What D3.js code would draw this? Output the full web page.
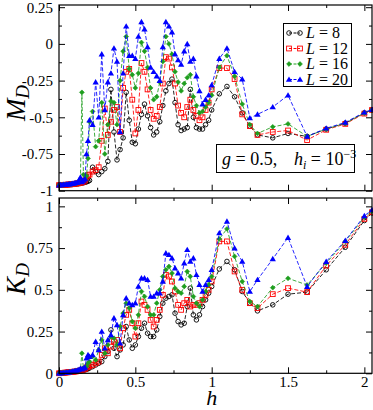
<!DOCTYPE html>
<html><head><meta charset="utf-8">
<script src="https://cdn.jsdelivr.net/npm/d3@7"></script>
<style>html,body{margin:0;padding:0;background:#fff;} svg{display:block;} svg text{font-family:"Liberation Serif","Times New Roman",Times,serif !important;}</style>
</head><body><svg id="c" width="373" height="410"></svg>
<script>
const hValues = [0,0.01,0.02,0.03,0.04,0.05,0.06,0.07,0.08,0.09,0.10,0.11,0.12,0.13,0.14,0.15,0.16,0.17,0.18,0.19,0.20,
0.22,0.24,0.26,0.28,0.30,0.32,0.34,0.36,0.38,0.40,0.42,0.44,0.46,0.48,0.50,0.52,0.54,0.56,0.58,0.60,0.62,0.64,0.66,0.68,0.70,0.72,0.74,0.76,0.78,0.80,0.82,0.84,0.86,0.88,0.90,0.92,0.94,0.96,0.98,1.00,
1.05,1.10,1.15,1.20,1.25,1.30,1.40,1.50,1.625,1.75,1.875,2.00,2.05];

const MD_L8 = [-0.962,-0.962,-0.961,-0.961,-0.960,-0.960,-0.959,-0.958,-0.958,-0.957,-0.956,-0.955,-0.953,-0.952,-0.950,-0.948,-0.946,-0.943,-0.940,-0.936,-0.930,
-0.84,-0.87,-0.89,-0.87,-0.85,-0.80,-0.31,-0.60,-0.79,-0.72,-0.64,-0.33,-0.52,-0.67,-0.68,-0.58,-0.48,-0.41,-0.49,-0.57,-0.62,-0.60,-0.53,-0.42,-0.32,-0.27,-0.24,-0.40,-0.55,-0.59,-0.58,-0.57,-0.31,-0.50,-0.57,-0.58,-0.58,-0.55,-0.52,-0.45,
-0.34,-0.29,-0.36,-0.47,-0.56,-0.62,-0.64,-0.61,-0.63,-0.58,-0.54,-0.47,-0.45];
const MD_L12 = [-0.962,-0.962,-0.961,-0.960,-0.960,-0.959,-0.958,-0.957,-0.956,-0.955,-0.954,-0.952,-0.950,-0.948,-0.946,-0.943,-0.940,-0.930,-0.905,-0.895,-0.890,
-0.87,-0.86,-0.84,-0.66,-0.44,-0.62,-0.53,-0.45,-0.43,-0.60,-0.30,-0.19,-0.17,-0.38,-0.61,-0.45,-0.13,-0.19,-0.31,-0.45,-0.51,-0.49,-0.43,-0.27,-0.09,-0.10,-0.16,-0.27,-0.42,-0.47,-0.50,-0.43,-0.38,-0.45,-0.49,-0.52,-0.50,-0.45,-0.40,-0.31,
-0.165,-0.165,-0.24,-0.48,-0.56,-0.62,-0.60,-0.59,-0.655,-0.585,-0.545,-0.475,-0.45];
const MD_L16 = [-0.962,-0.961,-0.961,-0.960,-0.959,-0.958,-0.957,-0.956,-0.955,-0.953,-0.951,-0.949,-0.947,-0.944,-0.940,-0.330,-0.890,-0.920,-0.900,-0.780,-0.530,
-0.46,-0.70,-0.66,-0.40,-0.75,-0.55,-0.39,-0.40,-0.55,-0.25,-0.05,0.05,-0.17,-0.21,-0.30,-0.20,0.01,-0.05,-0.16,-0.30,-0.38,-0.36,-0.26,-0.12,0.05,0.00,-0.07,-0.19,-0.26,-0.32,-0.27,-0.23,-0.21,-0.36,-0.42,-0.47,-0.46,-0.43,-0.40,-0.35,
-0.16,-0.08,-0.22,-0.41,-0.55,-0.61,-0.565,-0.545,-0.63,-0.58,-0.54,-0.47,-0.45];
const MD_L20 = [-0.962,-0.961,-0.960,-0.959,-0.958,-0.957,-0.956,-0.955,-0.953,-0.951,-0.949,-0.946,-0.943,-0.930,-0.910,-0.940,-0.930,-0.920,-0.750,-0.660,-0.520,
-0.55,-0.26,-0.50,-0.07,-0.45,-0.26,-0.20,-0.03,-0.12,-0.60,-0.20,0.12,-0.08,-0.08,-0.10,0.05,0.15,0.10,-0.02,-0.16,-0.19,-0.22,-0.25,-0.02,0.15,0.12,0.08,-0.07,-0.11,-0.14,-0.05,0.00,-0.12,-0.10,-0.22,-0.32,-0.41,-0.38,-0.35,-0.28,
-0.10,-0.03,-0.19,-0.24,-0.505,-0.48,-0.43,-0.35,-0.63,-0.575,-0.535,-0.466,-0.448];

const KD_L8 = [0,0.001,0.002,0.003,0.004,0.005,0.006,0.007,0.008,0.009,0.010,0.011,0.012,0.013,0.015,0.017,0.019,0.021,0.024,0.027,0.032,
0.04,0.05,0.06,0.07,0.10,0.13,0.26,0.15,0.10,0.14,0.17,0.28,0.20,0.15,0.17,0.22,0.27,0.30,0.24,0.22,0.22,0.26,0.34,0.42,0.45,0.46,0.47,0.36,0.31,0.29,0.30,0.40,0.51,0.35,0.32,0.35,0.40,0.44,0.48,0.52,
0.625,0.67,0.62,0.49,0.42,0.374,0.41,0.474,0.486,0.62,0.755,0.915,0.96];
const KD_L12 = [0,0.001,0.002,0.003,0.004,0.005,0.006,0.007,0.008,0.009,0.010,0.011,0.013,0.015,0.017,0.019,0.022,0.026,0.035,0.040,0.042,
0.05,0.06,0.07,0.11,0.15,0.12,0.16,0.19,0.20,0.15,0.27,0.35,0.38,0.30,0.22,0.30,0.43,0.41,0.38,0.32,0.28,0.32,0.38,0.47,0.59,0.58,0.55,0.49,0.41,0.38,0.42,0.44,0.40,0.41,0.41,0.42,0.44,0.47,0.50,0.55,
0.79,0.79,0.61,0.50,0.42,0.39,0.474,0.51,0.486,0.645,0.77,0.925,0.965];
const KD_L16 = [0,0.001,0.002,0.003,0.004,0.005,0.006,0.007,0.008,0.010,0.012,0.014,0.016,0.019,0.022,0.120,0.030,0.035,0.040,0.060,0.070,
0.10,0.08,0.14,0.20,0.12,0.17,0.22,0.21,0.17,0.28,0.36,0.42,0.39,0.31,0.27,0.35,0.49,0.46,0.40,0.35,0.35,0.42,0.50,0.58,0.62,0.64,0.60,0.51,0.49,0.48,0.52,0.61,0.58,0.46,0.42,0.40,0.44,0.49,0.53,0.58,
0.805,0.865,0.70,0.55,0.43,0.40,0.513,0.569,0.529,0.66,0.79,0.935,0.97];
const KD_L20 = [0,0.001,0.002,0.003,0.004,0.005,0.006,0.007,0.009,0.011,0.013,0.015,0.018,0.021,0.028,0.025,0.030,0.035,0.090,0.110,0.100,
0.11,0.19,0.14,0.25,0.15,0.20,0.23,0.33,0.29,0.18,0.35,0.45,0.42,0.41,0.42,0.52,0.57,0.57,0.56,0.46,0.46,0.48,0.48,0.55,0.72,0.71,0.69,0.63,0.60,0.57,0.66,0.74,0.67,0.69,0.59,0.53,0.49,0.53,0.56,0.62,
0.84,0.91,0.75,0.67,0.49,0.56,0.685,0.813,0.519,0.669,0.795,0.943,0.979];

const seriesNames = ["L = 8","L = 12","L = 16","L = 20"];
const seriesSizes = ["8","12","16","20"];
const xTickValues = [0,0.5,1,1.5,2];
const xTickLabels = ["0","0.5","1","1.5","2"];
const xMinorTicks = [0.25,0.75,1.25,1.75];
const mdTickValues = [-1,-0.75,-0.5,-0.25,0,0.25];
const mdTickLabels = ["-1","-0.75","-0.5","-0.25","0","0.25"];
const mdMinorTicks = [-0.875,-0.625,-0.375,-0.125,0.125];
const kdTickValues = [0,0.25,0.5,0.75,1];
const kdTickLabels = ["0","0.25","0.5","0.75","1"];
const kdMinorTicks = [0.125,0.375,0.625,0.875];

const FONT = "'Liberation Serif','Times New Roman',Times,serif";
const colors = ["#000000","#ff0000","#1e9e1e","#0000ff"];
const svg = d3.select("#c");
const x = d3.scaleLinear().domain([0,2.05]).range([59,372]);
const yTop = d3.scaleLinear().domain([-1,0.265]).range([190.7,5]);
const yBot = d3.scaleLinear().domain([0,1.05]).range([373.3,198]);

function marker(g, i, cx, cy){
  const c = colors[i];
  if(i===0){
    g.append("circle").attr("cx",cx).attr("cy",cy).attr("r",2.3).attr("fill","none").attr("stroke",c).attr("stroke-width",0.9);
  } else if(i===1){
    g.append("rect").attr("x",cx-2.4).attr("y",cy-2.4).attr("width",4.8).attr("height",4.8).attr("fill","none").attr("stroke",c).attr("stroke-width",0.9);
  } else if(i===2){
    g.append("path").attr("transform",`translate(${cx},${cy})`).attr("d",d3.symbol(d3.symbolDiamond2,15)()).attr("fill",c).attr("stroke",c).attr("stroke-width",0.6);
  } else {
    g.append("path").attr("transform",`translate(${cx},${cy+0.5})`).attr("d",d3.symbol(d3.symbolTriangle,17)()).attr("fill",c);
  }
}

function panel(y, tv, tl, minor, data, showX){
  const x0=x.range()[0], x1=x.range()[1], y0=y.range()[1], y1=y.range()[0];
  const g = svg.append("g");
  data.forEach((vals,i)=>{
    const pts = hValues.map((h,k)=>[h,vals[k]]);
    g.append("path").datum(pts).attr("fill","none").attr("stroke",colors[i]).attr("stroke-width",1)
      .attr("stroke-dasharray","4,2").attr("stroke-opacity",0.85)
      .attr("d",d3.line().x(d=>x(d[0])).y(d=>y(d[1])));
    const mg = g.append("g");
    pts.forEach(d=>marker(mg,i,x(d[0]),y(d[1])));
  });
  const mk=(axis,tr,vals,size,labels)=>{
    const a = axis.tickValues(vals).tickSize(size).tickPadding(labels?6:0).tickFormat((d,k)=>labels?labels[k]:"");
    const ag = svg.append("g").attr("transform",tr).call(a).attr("font-family",FONT).attr("font-size",15);
    ag.select(".domain").remove();
    ag.selectAll("line").attr("stroke","#000").attr("stroke-width",1);
    ag.selectAll("text").attr("font-size",15).attr("fill","#000").style("font-family",FONT);
    return ag;
  };
  mk(d3.axisLeft(y),`translate(${x0},0)`,tv,-6,tl);
  mk(d3.axisLeft(y),`translate(${x0},0)`,minor,-3,null);
  mk(d3.axisRight(y),`translate(${x1},0)`,tv,-6,null);
  mk(d3.axisRight(y),`translate(${x1},0)`,minor,-3,null);
  mk(d3.axisTop(x),`translate(0,${y0})`,xTickValues,-6,null);
  mk(d3.axisTop(x),`translate(0,${y0})`,xMinorTicks,-3,null);
  const bx = mk(d3.axisBottom(x),`translate(0,${y1})`,xTickValues,-6,showX?xTickLabels:null);
  mk(d3.axisBottom(x),`translate(0,${y1})`,xMinorTicks,-3,null);
  if(showX) bx.selectAll("text").attr("dy","0.5em");
  svg.append("rect").attr("x",x0).attr("y",y0).attr("width",x1-x0).attr("height",y1-y0)
    .attr("fill","none").attr("stroke","#000").attr("stroke-width",1.2);
}

panel(yTop, mdTickValues, mdTickLabels, mdMinorTicks, [MD_L8,MD_L12,MD_L16,MD_L20], false);
panel(yBot, kdTickValues, kdTickLabels, kdMinorTicks, [KD_L8,KD_L12,KD_L16,KD_L20], true);

function ylab(cx, cy, main){
  const t = svg.append("text").attr("transform",`translate(${cx},${cy}) rotate(-90)`)
    .attr("text-anchor","middle").attr("font-size",27).attr("font-style","italic").attr("fill","#000").style("font-family",FONT);
  t.append("tspan").text(main);
  t.append("tspan").attr("font-size",19).attr("dy",4).text("D");
}
ylab(25, 103, "M");
ylab(25, 279, "K");

svg.append("text").attr("x",x(1)).attr("y",405).attr("text-anchor","middle").attr("font-size",22)
  .attr("font-style","italic").attr("fill","#000").style("font-family",FONT).text("h");

const lg = svg.append("g");
lg.append("rect").attr("x",283.5).attr("y",23.5).attr("width",68).attr("height",63).attr("fill","#fff").attr("stroke","#000").attr("stroke-width",1);
seriesNames.forEach((n,i)=>{
  const cy = 33 + i*15.5;
  lg.append("line").attr("x1",289).attr("x2",300).attr("y1",cy).attr("y2",cy).attr("stroke",colors[i]).attr("stroke-width",1).attr("stroke-dasharray","3,1.5");
  marker(lg,i,289,cy); marker(lg,i,300,cy);
  const t = lg.append("text").attr("x",306).attr("y",cy+5).attr("font-size",16).attr("fill","#000").style("font-family",FONT);
  t.append("tspan").attr("font-style","italic").text("L");
  t.append("tspan").text(" = " + seriesSizes[i]);
});

svg.append("rect").attr("x",216.5).attr("y",144.5).attr("width",138).attr("height",28).attr("fill","#fff").attr("stroke","#000").attr("stroke-width",1);
const at = svg.append("text").attr("x",222).attr("y",165).attr("font-size",18).attr("fill","#000").style("font-family",FONT);
at.append("tspan").attr("font-style","italic").text("g");
at.append("tspan").text(" = 0.5,");
const at2 = svg.append("text").attr("x",294).attr("y",165).attr("font-size",18).attr("fill","#000").style("font-family",FONT);
at2.append("tspan").attr("font-style","italic").text("h");
at2.append("tspan").attr("font-style","italic").attr("font-size",12).attr("dy",4).text("i");
at2.append("tspan").attr("dy",-4).text(" = 10");
at2.append("tspan").attr("font-size",12).attr("dy",-7).text("−3");
</script></body></html>
